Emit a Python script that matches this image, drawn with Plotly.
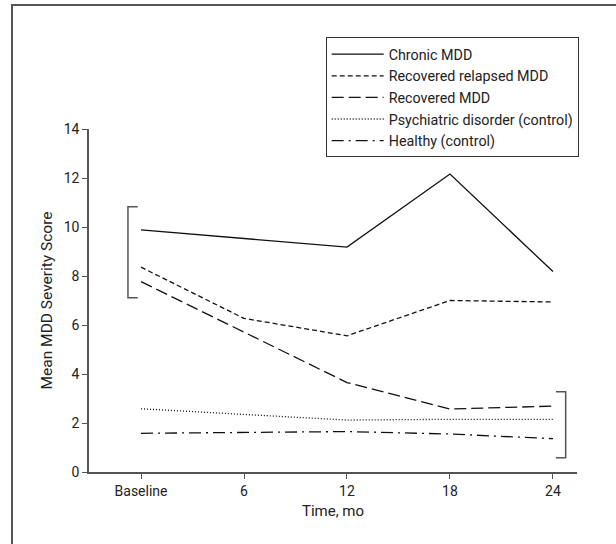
import plotly.graph_objects as go

time_months = [0, 6, 12, 18, 24]
tick_labels = ["Baseline", "6", "12", "18", "24"]

series_names = [
    "Chronic MDD",
    "Recovered relapsed MDD",
    "Recovered MDD",
    "Psychiatric disorder (control)",
    "Healthy (control)",
]
chronic = [9.88, None, 9.18, 12.16, 8.18]
recovered_relapsed = [8.36, 6.27, 5.56, 7.0, 6.94]
recovered = [7.77, None, 3.65, 2.57, 2.69]
psychiatric = [2.58, None, 2.12, 2.15, 2.15]
healthy = [1.58, None, 1.65, 1.55, 1.36]

series_values = [chronic, recovered_relapsed, recovered, psychiatric, healthy]
dashes = ["solid", "5px,3px", "12px,5px", "1px,2px", "12px,5px,2px,5px"]

FONT = "Roboto, Liberation Sans, sans-serif"

fig = go.Figure()
for name, vals, dash in zip(series_names, series_values, dashes):
    fig.add_trace(go.Scatter(
        x=time_months, y=vals, name=name, mode="lines", connectgaps=True,
        line=dict(color="#111111", width=1.3, dash=dash),
    ))

gray = "#555555"
fig.update_layout(
    width=616, height=544,
    margin=dict(l=89, r=39, t=129, b=72),
    paper_bgcolor="white", plot_bgcolor="white",
    font=dict(family=FONT, size=13, color="#222222"),
    showlegend=True,
    legend=dict(
        x=0.485, y=1.267, xanchor="left", yanchor="top",
        bordercolor="#333333", borderwidth=1, bgcolor="white",
        font=dict(family=FONT, size=14.3, color="#222222"),
        tracegroupgap=0, itemwidth=52,
    ),
    xaxis=dict(
        range=[-3.03, 25.4], tickmode="array", tickvals=time_months, ticktext=tick_labels,
        showgrid=False, zeroline=False, showline=True, linecolor=gray, linewidth=1.5,
        ticks="outside", ticklen=5, tickcolor=gray, tickwidth=1.2,
        title=dict(text="Time, mo", standoff=8, font=dict(family=FONT, size=15)),
        tickfont=dict(family=FONT, size=14),
    ),
    yaxis=dict(
        range=[0, 14], tickmode="array", tickvals=[0, 2, 4, 6, 8, 10, 12, 14],
        showgrid=False, zeroline=False, showline=True, linecolor=gray, linewidth=1.5,
        ticks="outside", ticklen=5, tickcolor=gray, tickwidth=1.2,
        title=dict(text="Mean MDD Severity Score", standoff=7, font=dict(family=FONT, size=15.5)),
        tickfont=dict(family=FONT, size=14),
    ),
    shapes=[
        dict(type="path", xref="x", yref="y",
             path="M -0.19,10.83 L -0.76,10.83 L -0.76,7.11 L -0.19,7.11",
             line=dict(color=gray, width=1.5)),
        dict(type="path", xref="x", yref="y",
             path="M 24.17,3.28 L 24.74,3.28 L 24.74,0.58 L 24.17,0.58",
             line=dict(color=gray, width=1.5)),
        dict(type="path", xref="paper", yref="paper",
             path="M -0.1578,-0.25 L -0.1578,1.3615 L 1.1,1.3615",
             line=dict(color=gray, width=2)),
    ],
)

fig.write_html(
    "out.html",
    config={"displayModeBar": False},
    post_script="document.body.style.margin='0';document.body.style.padding='0';",
)
